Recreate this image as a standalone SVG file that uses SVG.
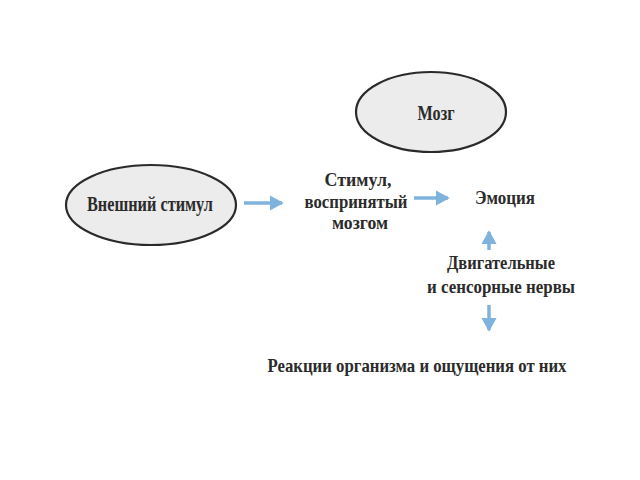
<svg xmlns="http://www.w3.org/2000/svg" width="640" height="480" viewBox="0 0 640 480">
<style>
.node ellipse{fill:#ececec;stroke:#2a2a2a;stroke-width:2.2}
text{font-family:"Liberation Serif","DejaVu Serif",serif;font-weight:bold;fill:#2b2b2b;text-anchor:middle}
.conn line{stroke:#7fb3de;stroke-width:3.5}
</style>
<defs>
<marker id="ah" markerWidth="6" markerHeight="6" refX="3.5" refY="3" orient="auto" markerUnits="strokeWidth">
<path d="M0,0.8 L4,3 L0,5.2 z" fill="#7fb3de"/>
</marker>
</defs>
<rect width="640" height="480" fill="#ffffff"/>
<g id="n-external" class="node">
<ellipse cx="151" cy="205" rx="85" ry="40"/>
<text x="150" y="211" font-size="21" textLength="126" lengthAdjust="spacingAndGlyphs">Внешний стимул</text>
</g>
<g id="n-brain" class="node">
<ellipse cx="431" cy="112" rx="75" ry="40"/>
<text x="436" y="120" font-size="22" textLength="37" lengthAdjust="spacingAndGlyphs">Мозг</text>
</g>
<g id="n-stimulus" class="node">
<text x="358" y="186" font-size="19" textLength="67" lengthAdjust="spacingAndGlyphs">Стимул,</text>
<text x="356" y="208" font-size="19" textLength="103" lengthAdjust="spacingAndGlyphs">воспринятый</text>
<text x="360" y="229" font-size="19" textLength="56" lengthAdjust="spacingAndGlyphs">мозгом</text>
</g>
<g id="n-emotion" class="node">
<text x="505" y="204" font-size="19" textLength="60" lengthAdjust="spacingAndGlyphs">Эмоция</text>
</g>
<g id="n-nerves" class="node">
<text x="501" y="269" font-size="18" textLength="108" lengthAdjust="spacingAndGlyphs">Двигательные</text>
<text x="501" y="293" font-size="18" textLength="148" lengthAdjust="spacingAndGlyphs">и сенсорные нервы</text>
</g>
<g id="n-reactions" class="node">
<text x="417" y="372" font-size="19" textLength="299" lengthAdjust="spacingAndGlyphs">Реакции организма и ощущения от них</text>
</g>
<g class="conn" id="connectors">
<line x1="244" y1="203" x2="282" y2="203" marker-end="url(#ah)"/>
<line x1="414" y1="198" x2="448" y2="198" marker-end="url(#ah)"/>
<line x1="489" y1="250" x2="489" y2="232" marker-end="url(#ah)"/>
<line x1="489" y1="305" x2="489" y2="330" marker-end="url(#ah)"/>
</g>
</svg>
